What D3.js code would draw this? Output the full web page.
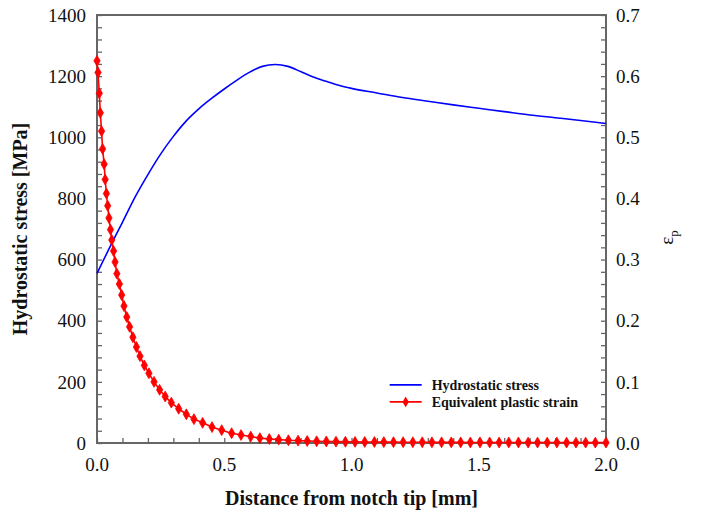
<!DOCTYPE html>
<html>
<head>
<meta charset="utf-8">
<script src="https://cdn.jsdelivr.net/npm/d3@7"></script>
<style>
  body { margin: 0; background: #fff; }
</style>
</head>
<body>
<div id="chart"></div>
<script>
// Hydrostatic stress (left axis, MPa)
const stressX = [0, 0.05, 0.1, 0.15, 0.2, 0.25, 0.3, 0.35, 0.4, 0.45, 0.5, 0.55, 0.6, 0.65, 0.7,
  0.75, 0.8, 0.85, 0.9, 0.95, 1.0, 1.1, 1.2, 1.3, 1.4, 1.5, 1.6, 1.7, 1.8, 1.9, 2.0];
const stressY = [555, 640, 722, 805, 878, 945, 1003, 1053, 1093, 1127, 1158, 1187, 1213, 1232, 1238,
  1232, 1215, 1197, 1183, 1170, 1160, 1145, 1130, 1118, 1106, 1095, 1084, 1073, 1064, 1055, 1045];

// Equivalent plastic strain (right axis)
const strainX = [0, 0.004, 0.009, 0.013, 0.018, 0.022, 0.028, 0.032, 0.037, 0.042, 0.047, 0.053,
  0.058, 0.065, 0.071, 0.078, 0.088, 0.097, 0.106, 0.117, 0.128, 0.141, 0.155, 0.169, 0.186,
  0.204, 0.224, 0.246, 0.268, 0.292, 0.321, 0.351, 0.381, 0.415, 0.452, 0.490, 0.529, 0.566,
  0.604, 0.640, 0.677, 0.714, 0.752, 0.790, 0.826, 0.863, 0.901, 0.939, 0.976, 1.014, 1.052,
  1.090, 1.127, 1.165, 1.203, 1.241, 1.278, 1.316, 1.354, 1.392, 1.429, 1.467, 1.505, 1.543,
  1.580, 1.618, 1.656, 1.694, 1.731, 1.769, 1.807, 1.845, 1.882, 1.920, 1.958, 2.0];
const strainY = [0.625, 0.606, 0.572, 0.540, 0.510, 0.481, 0.456, 0.431, 0.408, 0.388, 0.368, 0.349,
  0.332, 0.314, 0.296, 0.277, 0.260, 0.242, 0.224, 0.206, 0.190, 0.173, 0.157, 0.142, 0.127,
  0.114, 0.100, 0.087, 0.076, 0.066, 0.056, 0.047, 0.039, 0.033, 0.026, 0.021, 0.016, 0.013,
  0.0105, 0.008, 0.0065, 0.0055, 0.0045, 0.0039, 0.0033, 0.0028, 0.0025, 0.0022, 0.0020, 0.0018, 0.0017,
  0.0016, 0.0015, 0.0014, 0.0013, 0.0012, 0.0012, 0.0011, 0.0011, 0.0010, 0.0010, 0.0009, 0.0009, 0.0009,
  0.0008, 0.0008, 0.0008, 0.0007, 0.0007, 0.0007, 0.0007, 0.0006, 0.0006, 0.0006, 0.0006, 0.0006];

const xTicks = [0, 0.5, 1.0, 1.5, 2.0];
const leftTicks = [0, 200, 400, 600, 800, 1000, 1200, 1400];
const rightTicks = [0, 0.1, 0.2, 0.3, 0.4, 0.5, 0.6, 0.7];

const W = 702, H = 516;
const margin = { top: 15, right: 96, bottom: 73, left: 97 },
      width = W - margin.left - margin.right,
      height = H - margin.top - margin.bottom;

const serif = "'Liberation Serif', 'Times New Roman', serif";

const svg = d3.select("#chart").append("svg")
    .attr("width", W).attr("height", H)
    .attr("font-family", serif);
const g = svg.append("g")
    .attr("transform", `translate(${margin.left},${margin.top})`);

const x = d3.scaleLinear().domain([0, 2]).range([0, width]);
const yL = d3.scaleLinear().domain([0, 1400]).range([height, 0]);
const yR = d3.scaleLinear().domain([0, 0.7]).range([height, 0]);

const axisColor = "#666";

// minor + major ticks pointing inward
function styleAxis(sel) {
  sel.select(".domain").remove();
  sel.selectAll(".tick line").attr("stroke", axisColor).attr("stroke-width", 1.3);
}

const bottom = g.append("g")
    .attr("transform", `translate(0,${height})`)
    .call(d3.axisBottom(x).tickValues(d3.range(0, 2.0001, 0.1)).tickSize(-5).tickFormat(""));
styleAxis(bottom);

const left = g.append("g")
    .call(d3.axisLeft(yL).tickValues(d3.range(0, 1400.1, 40)).tickSize(-5).tickFormat(""));
styleAxis(left);

const right = g.append("g")
    .attr("transform", `translate(${width},0)`)
    .call(d3.axisRight(yR).tickValues(d3.range(0, 0.7001, 0.02)).tickSize(-5).tickFormat(""));
styleAxis(right);

// frame
g.append("rect")
    .attr("width", width).attr("height", height)
    .attr("fill", "none").attr("stroke", axisColor).attr("stroke-width", 2);

const labels = g.append("g")
    .attr("font-family", serif)
    .attr("font-size", 19)
    .attr("fill", "#111");

// tick labels
labels.selectAll(".xl").data(xTicks).join("text")
    .attr("x", d => x(d)).attr("y", height + 28)
    .attr("text-anchor", "middle")
    .text(d => d.toFixed(1));

labels.selectAll(".ll").data(leftTicks).join("text")
    .attr("x", -11).attr("y", d => yL(d)).attr("dy", "0.35em")
    .attr("text-anchor", "end")
    .text(d => d);

labels.selectAll(".rl").data(rightTicks).join("text")
    .attr("x", width + 10).attr("y", d => yR(d)).attr("dy", "0.35em")
    .text(d => d.toFixed(1));

// axis titles
labels.append("text")
    .attr("font-weight", "bold").attr("font-size", 20)
    .attr("x", width / 2).attr("y", height + 62)
    .attr("text-anchor", "middle")
    .text("Distance from notch tip [mm]");

labels.append("text")
    .attr("font-weight", "bold").attr("font-size", 20)
    .attr("transform", "rotate(-90)")
    .attr("x", -height / 2).attr("y", -70)
    .attr("text-anchor", "middle")
    .text("Hydrostatic stress [MPa]");

const eps = labels.append("text")
    .attr("transform", `translate(${width + 67},${yR(0.3) - 22}) rotate(-90)`)
    .attr("text-anchor", "middle");
eps.append("tspan").text("ε");
eps.append("tspan").attr("dy", 5).attr("font-size", 13).text("p");

// series
const stressData = stressX.map((d, i) => [d, stressY[i]]);
const strainData = strainX.map((d, i) => [d, strainY[i]]);

g.append("path")
    .datum(stressData)
    .attr("fill", "none").attr("stroke", "#0000ff").attr("stroke-width", 1.6)
    .attr("d", d3.line().x(d => x(d[0])).y(d => yL(d[1])).curve(d3.curveMonotoneX));

g.append("path")
    .datum(strainData)
    .attr("fill", "none").attr("stroke", "#ff0000").attr("stroke-width", 1.6)
    .attr("d", d3.line().x(d => x(d[0])).y(d => yR(d[1])));

const diamond = d3.symbol().type(d3.symbolDiamond).size(34);
g.selectAll(".mk").data(strainData).join("path")
    .attr("transform", d => `translate(${x(d[0])},${yR(d[1])})`)
    .attr("d", diamond)
    .attr("fill", "#ff0000").attr("stroke", "#ff0000").attr("stroke-width", 0.8);

// legend
const legend = g.append("g")
    .attr("font-family", serif).attr("font-size", 14).attr("font-weight", "bold").attr("fill", "#111")
    .attr("transform", `translate(${x(1.15)},${yL(190)})`);
legend.append("line").attr("x1", 0).attr("x2", 32).attr("y1", 0).attr("y2", 0)
    .attr("stroke", "#0000ff").attr("stroke-width", 1.6);
legend.append("text").attr("x", 42).attr("y", 0).attr("dy", "0.35em").text("Hydrostatic stress");
legend.append("line").attr("x1", 0).attr("x2", 32).attr("y1", 17).attr("y2", 17)
    .attr("stroke", "#ff0000").attr("stroke-width", 1.6);
legend.append("path").attr("transform", "translate(16,17)").attr("d", diamond)
    .attr("fill", "#ff0000");
legend.append("text").attr("x", 42).attr("y", 17).attr("dy", "0.35em").text("Equivalent plastic strain");
</script>
</body>
</html>
